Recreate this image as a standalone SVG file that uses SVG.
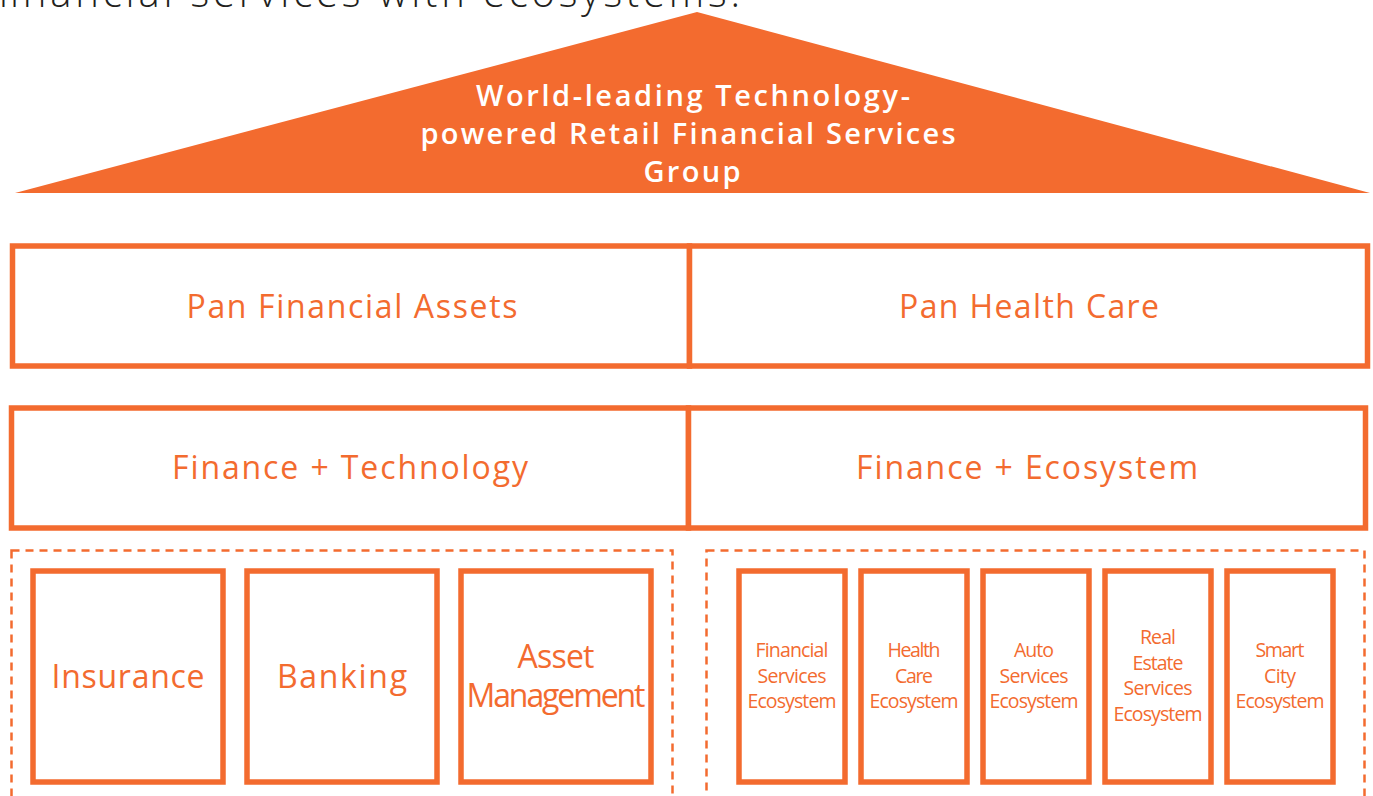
<svg xmlns="http://www.w3.org/2000/svg" width="1373" height="796" viewBox="0 0 1373 796">
<style>
.box{fill:#fff;stroke:#F36B2F;stroke-width:5.5}
.dash{fill:none;stroke:#F36B2F;stroke-width:2.5;stroke-dasharray:8 6}
.lbl{font-family:"Open Sans","Noto Sans",sans-serif;font-weight:400;fill:#F36B2F;text-anchor:middle}
.big{font-size:32px}
.small{font-size:19.5px}
.roof{font-family:"Open Sans","Noto Sans",sans-serif;font-weight:600;font-size:29px;fill:#fff;text-anchor:middle}
</style>
<rect width="1373" height="796" fill="#fff"/>
<text x="-2" y="7" font-family="'Open Sans','Noto Sans',sans-serif" font-weight="300" font-size="40" fill="#231F20" textLength="742" lengthAdjust="spacing">financial services with ecosystems.</text>
<g id="roof">
<polygon points="697,12 1370,193 15,193" fill="#F36B2F"/>
<text class="roof" x="693" y="106" textLength="434" lengthAdjust="spacing">World-leading Technology-</text>
<text class="roof" x="688" y="144" textLength="535" lengthAdjust="spacing">powered Retail Financial Services</text>
<text class="roof" x="692" y="182" textLength="97" lengthAdjust="spacing">Group</text>
</g>
<g id="pan-financial-assets">
<rect class="box" x="12.5" y="246" width="677" height="120"/>
<text class="lbl big" x="352" y="318" textLength="331" lengthAdjust="spacing">Pan Financial Assets</text>
</g>
<g id="pan-health-care">
<rect class="box" x="689.5" y="246" width="678" height="120"/>
<text class="lbl big" x="1029" y="318" textLength="260" lengthAdjust="spacing">Pan Health Care</text>
</g>
<g id="finance-technology">
<rect class="box" x="11.5" y="408" width="677" height="120"/>
<text class="lbl big" x="350" y="479" textLength="356" lengthAdjust="spacing">Finance + Technology</text>
</g>
<g id="finance-ecosystem">
<rect class="box" x="688.5" y="408" width="677" height="120"/>
<text class="lbl big" x="1027" y="479" textLength="342" lengthAdjust="spacing">Finance + Ecosystem</text>
</g>
<g id="finance-group">
<rect class="dash" x="11.5" y="550.5" width="661" height="260"/>
</g>
<g id="ecosystem-group">
<rect class="dash" x="706.5" y="550.5" width="658" height="260"/>
</g>
<g id="insurance">
<rect class="box" x="33" y="571" width="190" height="211"/>
<text class="lbl big" x="128" y="688" textLength="153" lengthAdjust="spacing">Insurance</text>
</g>
<g id="banking">
<rect class="box" x="247" y="571" width="190" height="211"/>
<text class="lbl big" x="342" y="688" textLength="130" lengthAdjust="spacing">Banking</text>
</g>
<g id="asset-management">
<rect class="box" x="461" y="571" width="190" height="211"/>
<text class="lbl big" x="556" y="668" textLength="77" lengthAdjust="spacing">Asset</text>
<text class="lbl big" x="556" y="707" textLength="179" lengthAdjust="spacing">Management</text>
</g>
<g id="financial-services-ecosystem">
<rect class="box" x="739" y="571" width="106" height="211"/>
<text class="lbl small" x="792" y="657" textLength="73" lengthAdjust="spacing">Financial</text>
<text class="lbl small" x="792" y="683" textLength="69" lengthAdjust="spacing">Services</text>
<text class="lbl small" x="792" y="708" textLength="89" lengthAdjust="spacing">Ecosystem</text>
</g>
<g id="health-care-ecosystem">
<rect class="box" x="861" y="571" width="106" height="211"/>
<text class="lbl small" x="914" y="657" textLength="53" lengthAdjust="spacing">Health</text>
<text class="lbl small" x="914" y="683" textLength="38" lengthAdjust="spacing">Care</text>
<text class="lbl small" x="914" y="708" textLength="89" lengthAdjust="spacing">Ecosystem</text>
</g>
<g id="auto-services-ecosystem">
<rect class="box" x="983" y="571" width="106" height="211"/>
<text class="lbl small" x="1034" y="657" textLength="40" lengthAdjust="spacing">Auto</text>
<text class="lbl small" x="1034" y="683" textLength="69" lengthAdjust="spacing">Services</text>
<text class="lbl small" x="1034" y="708" textLength="89" lengthAdjust="spacing">Ecosystem</text>
</g>
<g id="real-estate-services-ecosystem">
<rect class="box" x="1105" y="571" width="106" height="211"/>
<text class="lbl small" x="1158" y="644" textLength="36" lengthAdjust="spacing">Real</text>
<text class="lbl small" x="1158" y="670" textLength="51" lengthAdjust="spacing">Estate</text>
<text class="lbl small" x="1158" y="695" textLength="69" lengthAdjust="spacing">Services</text>
<text class="lbl small" x="1158" y="721" textLength="89" lengthAdjust="spacing">Ecosystem</text>
</g>
<g id="smart-city-ecosystem">
<rect class="box" x="1227" y="571" width="106" height="211"/>
<text class="lbl small" x="1280" y="657" textLength="49" lengthAdjust="spacing">Smart</text>
<text class="lbl small" x="1280" y="683" textLength="32" lengthAdjust="spacing">City</text>
<text class="lbl small" x="1280" y="708" textLength="89" lengthAdjust="spacing">Ecosystem</text>
</g>
<g id="connectors"></g>
</svg>
